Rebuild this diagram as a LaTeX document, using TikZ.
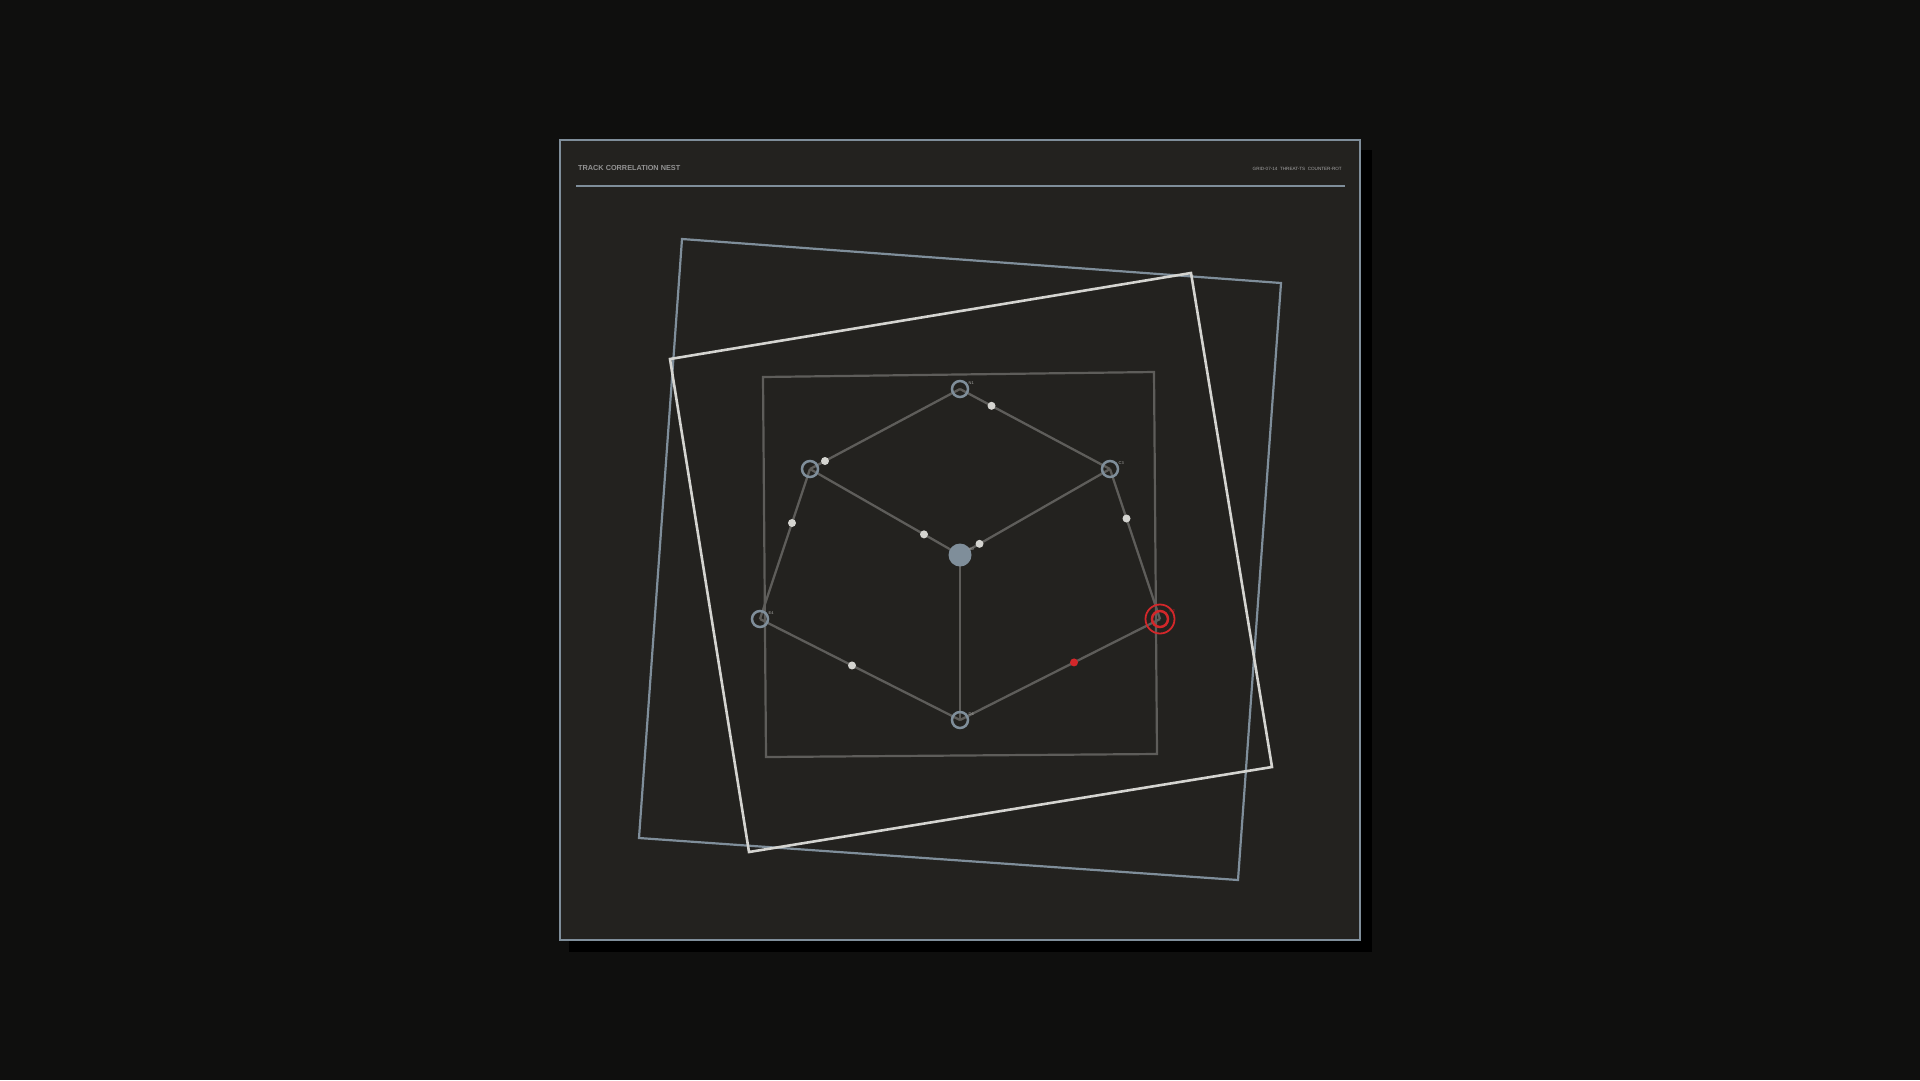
\documentclass[tikz,border=0pt]{standalone}
\usepackage{fontspec}
\setsansfont{Liberation Sans}
\usepackage{tikz}
\usetikzlibrary{calc}
\usetikzlibrary{positioning}

\definecolor{pagebg}{HTML}{0F0F0E}
\definecolor{panelbg}{HTML}{23221F}
\definecolor{steel}{HTML}{7F8E9A}
\definecolor{edgegrey}{HTML}{5E5D5A}
\definecolor{dotwhite}{HTML}{D4D4D0}
\definecolor{alertred}{HTML}{D3272A}

\begin{document}
\begin{tikzpicture}[x=1pt,y=-1pt,
	link/.style={draw=edgegrey,line width=2.3pt},
	tick/.style={circle,fill=dotwhite,inner sep=0pt,minimum size=8pt},
	ring/.style={circle,draw=steel,line width=2.5pt,inner sep=0pt,minimum size=16pt},
	tag/.style={font=\sffamily\fontsize{4}{4}\selectfont,text=dotwhite!80!black,inner sep=0.5pt,anchor=south west}]
	% page and panel
\useasboundingbox (0,0) rectangle (1920,1080);
\fill[pagebg] (0,0) rectangle (1920,1080);
\fill[black] (569,150) rectangle (1372,952);
\filldraw[fill=panelbg,draw=steel,line width=2.5pt] (560,140) rectangle (1360,940);

\node[font=\sffamily\bfseries\fontsize{7.3}{8}\selectfont,text=gray!85,anchor=west,inner sep=0pt] (title) at (578,168) {TRACK CORRELATION NEST};
\node[font=\sffamily\fontsize{4.6}{5}\selectfont,text=gray!70,anchor=east,inner sep=0pt] (meta) at (1342,169) {GRID-07-14 \;THREAT-TS \;COUNTER-ROT};
\draw[steel,line width=1.3pt] (576,186) -- (1345,186);

	% nested frames
\draw[steel,line width=2.2pt,line join=miter] (682,239) -- (1281,283) -- (1238,880) -- (639,838) -- cycle;
\draw[dotwhite,line width=2.6pt,line join=miter] (670,359) -- (1191,273) -- (1272,767) -- (749,852) -- cycle;
\draw[edgegrey,line width=2.2pt] (763,377) -- (1154,372) -- (1157,754) -- (766,757) -- cycle;

	% track nodes
\coordinate (top) at (960,389);
\coordinate (ul) at (810,469);
\coordinate (ur) at (1110,469);
\coordinate (hub) at (960,555);
\coordinate (lft) at (760,619);
\coordinate (rgt) at (1160,619);
\coordinate (bot) at (960,720);

\path[link] (ul) -- node[tick,pos=0.1]{} (top);
\path[link] (top) -- node[tick,pos=0.21]{} (ur);
\path[link] (ul) -- node[tick,pos=0.76]{} (hub);
\path[link] (hub) -- node[tick,pos=0.13]{} (ur);
\path[link] (ul) -- node[tick,pos=0.36]{} (lft);
\path[link] (ur) -- node[tick,pos=0.33]{} (rgt);
\path[link] (lft) -- node[tick,pos=0.46]{} (bot);
\path[link] (bot) -- node[tick,fill=alertred,pos=0.57]{} (rgt);
\path[link] (hub) -- (bot);

\foreach \n in {top,ul,ur,lft,bot}
	\node[ring] (r-\n) at (\n) {};
\node[ring,draw=alertred] (r-rgt) at (rgt) {};
\node[circle,draw=alertred,line width=1.8pt,inner sep=0pt,minimum size=29pt] (halo) at (rgt) {};
\node[circle,fill=steel,inner sep=0pt,minimum size=23pt] (r-hub) at (hub) {};

	% tags
\node[tag] at ($(top)+(8,-4)$) {N1};
\node[tag] at ($(ur)+(8,-4)$) {C3};
\node[tag,text=alertred] at ($(rgt)+(9,-6)$) {R2};
\node[tag] at ($(lft)+(8,-4)$) {E4};
\node[tag] at ($(bot)+(8,-4)$) {D6};
\node[tag] at ($(hub)+(8,-4)$) {H0};
\end{tikzpicture}
\end{document}
